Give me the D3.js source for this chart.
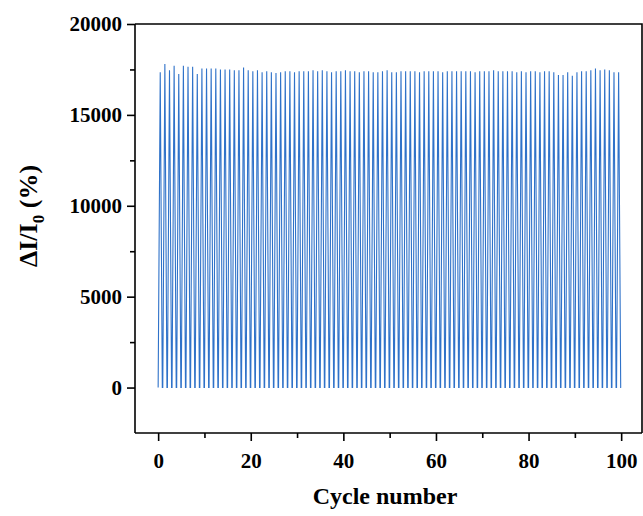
<!DOCTYPE html>
<html lang="en">
<head>
<meta charset="UTF-8">
<title>Cycle test</title>
<style>
body { margin: 0; background: #fff; }
.tick text, .label { font-family: "Liberation Serif", "Times New Roman", serif; font-weight: bold; fill: #000; }
.line { fill: none; stroke: #2f72c9; stroke-width: 1.1; }
</style>
</head>
<body>
<script src="https://d3js.org/d3.v7.min.js"></script>
<script>
// peak value of each loading cycle (cycle 0..99)
var peaks = [17350, 17800, 17450, 17700, 17250, 17700, 17650, 17650, 17250, 17550,
             17550, 17550, 17550, 17500, 17500, 17500, 17450, 17450, 17600, 17450,
             17400, 17450, 17350, 17400, 17350, 17300, 17350, 17400, 17400, 17350,
             17400, 17400, 17400, 17450, 17400, 17450, 17400, 17350, 17400, 17400,
             17450, 17400, 17400, 17350, 17400, 17400, 17350, 17350, 17400, 17450,
             17350, 17350, 17400, 17400, 17400, 17400, 17350, 17400, 17400, 17400,
             17400, 17350, 17400, 17400, 17400, 17400, 17400, 17400, 17350, 17400,
             17400, 17400, 17450, 17400, 17400, 17400, 17400, 17350, 17400, 17350,
             17400, 17400, 17350, 17400, 17400, 17350, 17200, 17200, 17350, 17150,
             17350, 17400, 17400, 17450, 17550, 17450, 17500, 17450, 17350, 17350];
var baseline = 0;
var xTicks = [0, 20, 40, 60, 80, 100];
var yTicks = [0, 5000, 10000, 15000, 20000];

var width = 643, height = 516;
var m = {left: 135, right: 642, top: 24, bottom: 433};

var svg = d3.select("body").append("svg")
    .attr("width", width)
    .attr("height", height);

var x = d3.scaleLinear().domain([-5, 104.5]).range([m.left, m.right]);
var y = d3.scaleLinear().domain([-2500, 20000]).range([m.bottom, m.top]);

// each cycle: rise from the baseline to its peak and back
var pts = [];
peaks.forEach(function(p, i) {
  pts.push([i, baseline]);
  pts.push([i + 0.45, p]);
  pts.push([i + 0.9, baseline]);
});
pts.push([peaks.length, baseline]);

var line = d3.line()
    .x(function(d) { return x(d[0]); })
    .y(function(d) { return y(d[1]); });

svg.append("path")
    .datum(pts)
    .attr("class", "line")
    .attr("d", line);

// frame
svg.append("path")
    .attr("d", "M" + m.left + "," + m.top + "H" + m.right + "V" + m.bottom)
    .attr("fill", "none")
    .attr("stroke", "#000")
    .attr("stroke-width", 1.6);

// x axis, minor then major ticks
var gx = svg.append("g").attr("transform", "translate(0," + m.bottom + ")");
gx.append("g").call(d3.axisBottom(x).tickValues(d3.range(10, 100, 20)).tickSize(5).tickFormat(""));
gx.append("g").call(d3.axisBottom(x).tickValues(xTicks).tickSize(8).tickPadding(12).tickFormat(d3.format("d")));
gx.selectAll(".domain").remove();
gx.append("line").attr("x1", m.left).attr("x2", m.right).attr("stroke", "#000").attr("stroke-width", 1.6);

var gy = svg.append("g").attr("transform", "translate(" + m.left + ",0)");
gy.append("g").call(d3.axisLeft(y).tickValues(d3.range(2500, 20000, 5000)).tickSize(5).tickFormat(""));
gy.append("g").call(d3.axisLeft(y).tickValues(yTicks).tickSize(8).tickPadding(5).tickFormat(d3.format("d")));
gy.selectAll(".domain").remove();
gy.append("line").attr("y1", m.top).attr("y2", m.bottom).attr("stroke", "#000").attr("stroke-width", 1.6);

svg.selectAll(".tick line").attr("stroke-width", 1.6);
svg.selectAll(".tick text").style("font-size", "21px");

svg.append("text")
    .attr("class", "label")
    .attr("x", 385)
    .attr("y", 504)
    .attr("text-anchor", "middle")
    .style("font-size", "24px")
    .text("Cycle number");

var yl = svg.append("text")
    .attr("class", "label")
    .attr("transform", "translate(37,216) rotate(-90)")
    .attr("text-anchor", "middle")
    .style("font-size", "26px");
yl.append("tspan").text("\u0394I/I");
yl.append("tspan").attr("dy", 7).style("font-size", "17px").text("0");
yl.append("tspan").attr("dy", -7).text(" (%)");
</script>
</body>
</html>
